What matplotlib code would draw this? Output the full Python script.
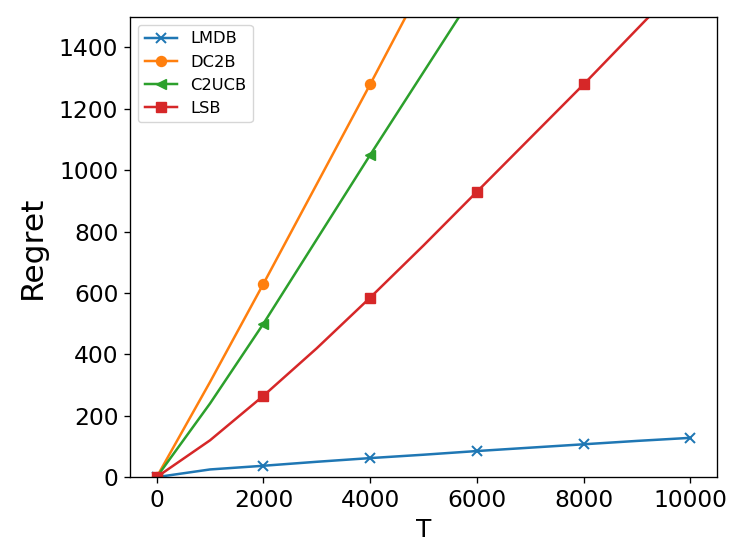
import numpy as np
import matplotlib
matplotlib.use("Agg")
import matplotlib.pyplot as plt

# donnees
T = [0, 1000, 2000, 3000, 4000, 5000, 6000, 7000, 8000, 9000, 10000]
lmdb = [0, 25, 37, 50, 62, 73, 85, 96, 107, 118, 128]
dc2b = [0, 310, 630, 955, 1280, 1610, 1940, 2270, 2600, 2930, 3260]
c2ucb = [0, 240, 500, 775, 1050, 1320, 1590, 1860, 2130, 2400, 2670]
lsb = [0, 120, 265, 420, 585, 755, 930, 1105, 1280, 1460, 1640]

s = 1.2  # facteur d'echelle (figure d'origine a plus haute resolution)
fig, ax = plt.subplots(figsize=(7.47, 5.6), dpi=100)
kw = dict(markevery=2, markersize=6 * s, linewidth=1.5 * s)
ax.plot(T, lmdb, marker='x', markeredgewidth=1.2 * s, label='LMDB', **kw)
ax.plot(T, dc2b, marker='o', label='DC2B', **kw)
ax.plot(T, c2ucb, marker='<', label='C2UCB', **kw)
ax.plot(T, lsb, marker='s', label='LSB', **kw)

ax.set_ylim(0, 1500)
ax.set_xlim(-500, 10500)
ax.set_xlabel('T', fontsize=18, labelpad=4 * s)
ax.set_ylabel('Regret', fontsize=22.5, labelpad=8.5)
ax.tick_params(labelsize=14 * s, length=3.5 * s, width=0.8 * s, pad=3.5 * s)
for sp in ax.spines.values():
    sp.set_linewidth(0.8 * s)
ax.legend(loc='upper left', fontsize=11.7)

fig.subplots_adjust(left=0.174, right=0.96, top=0.97, bottom=0.148)
fig.savefig('out.png')
